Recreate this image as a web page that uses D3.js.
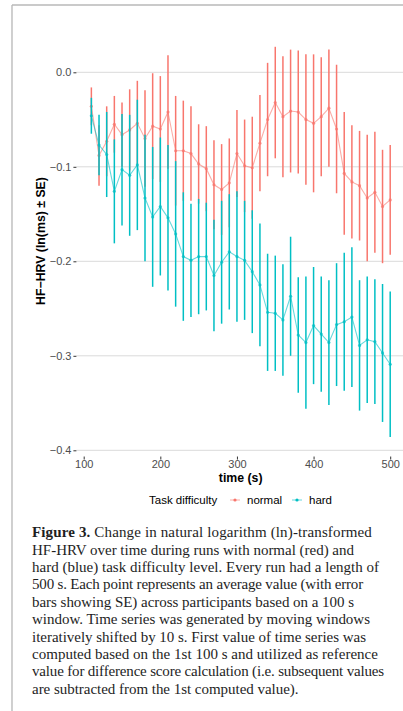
<!DOCTYPE html>
<html>
<head>
<meta charset="utf-8">
<script src="https://cdn.jsdelivr.net/npm/d3@7"></script>
<style>
  body { margin: 0; background: #fff; }
  svg { display: block; }
</style>
</head>
<body>
<svg id="chart" width="403" height="711"></svg>
<script>
// Data (time in s, change in ln HF-HRV)
const timePoints = [110, 120, 130, 140, 150, 160, 170, 180, 190, 200,
  210, 220, 230, 240, 250, 260, 270, 280, 290, 300,
  310, 320, 330, 340, 350, 360, 370, 380, 390, 400,
  410, 420, 430, 440, 450, 460, 470, 480, 490, 500];

const normalMean = [-0.036, -0.088, -0.073, -0.055, -0.066, -0.061, -0.054, -0.070, -0.057, -0.060,
  -0.042, -0.083, -0.083, -0.086, -0.097, -0.102, -0.119, -0.124, -0.117, -0.086,
  -0.099, -0.101, -0.075, -0.050, -0.032, -0.047, -0.041, -0.042, -0.050, -0.054,
  -0.047, -0.038, -0.060, -0.107, -0.116, -0.120, -0.133, -0.127, -0.142, -0.135];
const normalSE = [0.020, 0.032, 0.037, 0.030, 0.034, 0.043, 0.045, 0.051, 0.056, 0.056,
  0.060, 0.058, 0.053, 0.050, 0.042, 0.045, 0.047, 0.048, 0.047, 0.046,
  0.049, 0.054, 0.051, 0.060, 0.059, 0.064, 0.065, 0.065, 0.069, 0.073,
  0.063, 0.062, 0.068, 0.065, 0.060, 0.058, 0.067, 0.064, 0.060, 0.058];

const hardMean = [-0.046, -0.077, -0.087, -0.126, -0.103, -0.109, -0.098, -0.133, -0.153, -0.142,
  -0.154, -0.171, -0.195, -0.199, -0.195, -0.195, -0.215, -0.201, -0.190, -0.195,
  -0.199, -0.211, -0.225, -0.254, -0.255, -0.262, -0.237, -0.278, -0.286, -0.268,
  -0.277, -0.286, -0.267, -0.264, -0.259, -0.289, -0.283, -0.285, -0.297, -0.309];
const hardSE = [0.019, 0.032, 0.045, 0.055, 0.059, 0.064, 0.069, 0.067, 0.074, 0.073,
  0.077, 0.077, 0.068, 0.060, 0.061, 0.057, 0.059, 0.065, 0.061, 0.069,
  0.063, 0.065, 0.065, 0.062, 0.061, 0.059, 0.063, 0.061, 0.070, 0.062,
  0.061, 0.066, 0.065, 0.073, 0.074, 0.069, 0.067, 0.066, 0.073, 0.077];

const xTicks = [100, 200, 300, 400, 500];
const yTicks = [0, -0.1, -0.2, -0.3, -0.4];
const groupNames = ["normal", "hard"];
const groupColors = ["#F8766D", "#00BFC4"];

const captionLines = [
  "Change in natural logarithm (ln)-transformed",
  "HF-HRV over time during runs with normal (red) and",
  "hard (blue) task difficulty level. Every run had a length of",
  "500 s. Each point represents an average value (with error",
  "bars showing SE) across participants based on a 100 s",
  "window. Time series was generated by moving windows",
  "iteratively shifted by 10 s. First value of time series was",
  "computed based on the 1st 100 s and utilized as reference",
  "value for difference score calculation (i.e. subsequent values",
  "are subtracted from the 1st computed value)."
];
// right end of each full caption line in the figure (last line left natural)
const captionEnds = [372, 354, 379, 363, 354, 370, 366, 378, 384, null];

const svg = d3.select("#chart");

// page frame (figure box is cut at the right edge)
svg.append("line").attr("x1", 12).attr("x2", 12).attr("y1", 5).attr("y2", 711)
  .attr("stroke", "#b0b0b0").attr("stroke-width", 1.2);
svg.append("line").attr("x1", 12).attr("x2", 403).attr("y1", 5).attr("y2", 5)
  .attr("stroke", "#b8b8b8").attr("stroke-width", 1.6);

// scales
const x = d3.scaleLinear().domain([100, 500]).range([83.7, 390.2]);
const y = d3.scaleLinear().domain([0, -0.4]).range([72.3, 450.3]);
const panelLeft = x(90.5), panelRight = 403, panelBottom = y(-0.4066);

// horizontal grid
svg.append("g").selectAll("line").data(yTicks).join("line")
  .attr("x1", panelLeft).attr("x2", panelRight)
  .attr("y1", d => y(d)).attr("y2", d => y(d))
  .attr("stroke", "#dadada").attr("stroke-width", 1);

// axes
const yAxis = svg.append("g").attr("transform", `translate(${panelLeft},0)`)
  .call(d3.axisLeft(y).tickValues(yTicks).tickFormat(d3.format(".1f")).tickSize(3).tickPadding(2));
const xAxis = svg.append("g").attr("transform", `translate(0,${panelBottom})`)
  .call(d3.axisBottom(x).tickValues(xTicks).tickSize(3).tickPadding(1));
[yAxis, xAxis].forEach(ax => {
  ax.select(".domain").remove();
  ax.selectAll(".tick line").attr("stroke", "#333");
  ax.selectAll(".tick text").attr("fill", "#4d4d4d")
    .style("font-family", "Liberation Sans, Arial, sans-serif").style("font-size", "11px");
});

// series
const series = [
  { mean: normalMean, se: normalSE, color: groupColors[0] },
  { mean: hardMean, se: hardSE, color: groupColors[1] }
];
const line = d3.line().x(d => x(d.t)).y(d => y(d.m));

series.forEach(s => {
  const pts = timePoints.map((t, i) => ({ t: t, m: s.mean[i], e: s.se[i] }));
  const g = svg.append("g");
  g.selectAll("line.err").data(pts).join("line").attr("class", "err")
    .attr("x1", d => x(d.t)).attr("x2", d => x(d.t))
    .attr("y1", d => y(d.m + d.e)).attr("y2", d => y(d.m - d.e))
    .attr("stroke", s.color).attr("stroke-width", 1.5);
  g.append("path").datum(pts).attr("d", line)
    .attr("fill", "none").attr("stroke", s.color).attr("stroke-opacity", 0.6).attr("stroke-width", 1.1);
  g.selectAll("circle").data(pts).join("circle")
    .attr("cx", d => x(d.t)).attr("cy", d => y(d.m)).attr("r", 1.6)
    .attr("fill", s.color).attr("fill-opacity", 0.75);
});

// axis titles
svg.append("text").attr("x", (panelLeft + 405) / 2).attr("y", 482)
  .attr("text-anchor", "middle").attr("font-family", "Liberation Sans, Arial, sans-serif")
  .attr("font-size", 12.3).attr("font-weight", "bold").text("time (s)");
svg.append("text").attr("transform", "translate(45,241) rotate(-90)")
  .attr("text-anchor", "middle").attr("font-family", "Liberation Sans, Arial, sans-serif")
  .attr("font-size", 12.3).attr("font-weight", "bold").text("HF\u2212HRV (ln(ms) \u00b1 SE)");

// legend
const legend = svg.append("g").attr("font-family", "Liberation Sans, Arial, sans-serif").attr("font-size", 11.5);
legend.append("text").attr("x", 149).attr("y", 504).text("Task difficulty");
const keyX = [230, 292];
groupNames.forEach((name, i) => {
  legend.append("line").attr("x1", keyX[i]).attr("x2", keyX[i] + 10).attr("y1", 500).attr("y2", 500)
    .attr("stroke", groupColors[i]).attr("stroke-opacity", 0.6);
  legend.append("circle").attr("cx", keyX[i] + 5).attr("cy", 500).attr("r", 1.6)
    .attr("fill", groupColors[i]);
  legend.append("text").attr("x", keyX[i] + 17).attr("y", 504).text(name);
});

// caption: fit each full line to the width it has in the figure via letter spacing
const cap = svg.append("g").attr("font-family", "Liberation Serif, Times New Roman, serif")
  .attr("font-size", 15).attr("fill", "#1e1e1e");
let lsSum = 0, lsCount = 0;
captionLines.forEach((txt, i) => {
  const t = cap.append("text").attr("x", 32).attr("y", 537.3 + i * 17.37);
  if (i === 0) t.append("tspan").attr("font-weight", "bold").text("Figure 3. ");
  t.append("tspan").text(txt);
  let ls;
  if (captionEnds[i] !== null) {
    const natural = t.node().getComputedTextLength();
    const nChars = (i === 0 ? 10 : 0) + txt.length;
    ls = (captionEnds[i] - 32 - natural) / nChars;
    lsSum += ls; lsCount += 1;
  } else {
    ls = lsSum / lsCount;
  }
  t.attr("letter-spacing", ls.toFixed(3) + "px");
});
</script>
</body>
</html>
